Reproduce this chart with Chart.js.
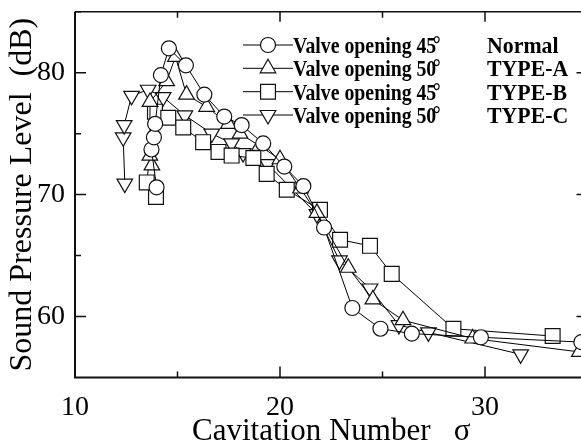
<!DOCTYPE html>
<html>
<head>
<meta charset="utf-8">
<script src="https://cdn.jsdelivr.net/npm/chart.js@4"></script>
<style>
  html, body { margin: 0; padding: 0; background: #fff; overflow: hidden; }
  #wrap { width: 600px; height: 448px; }
</style>
</head>
<body>
<div id="wrap"><canvas id="c" width="600" height="448"></canvas></div>
<script>
// Sound pressure level vs cavitation number (points in measured order)
const normal = [
  [13.98, 70.6], [13.73, 73.7], [13.85, 74.7], [13.91, 75.8], [14.19, 79.8],
  [14.58, 82.0], [15.41, 80.6], [16.31, 78.2], [17.28, 76.4], [18.13, 75.7],
  [19.18, 74.2], [20.21, 72.3], [21.14, 70.7], [22.15, 67.3], [23.53, 60.7],
  [24.9, 59.0], [26.43, 58.6], [29.8, 58.3], [34.7, 57.9]
];
const typeA = [
  [13.75, 72.4], [13.65, 73.2], [13.66, 77.6], [14.47, 79.3], [14.9, 81.3],
  [15.44, 78.2], [16.42, 77.2], [17.48, 75.8], [18.05, 75.0], [19.0, 74.0],
  [20.0, 72.9], [21.0, 70.5], [21.8, 68.5], [23.33, 64.0], [24.53, 61.4],
  [26.0, 59.7], [29.4, 58.2], [34.6, 57.1]
];
const typeB = [
  [13.95, 69.8], [13.5, 71.0], [13.9, 76.8], [14.55, 76.3], [15.28, 75.5],
  [16.25, 74.3], [17.0, 73.5], [17.64, 73.2], [18.7, 73.0], [19.35, 71.7],
  [20.33, 70.4], [21.95, 68.75], [22.93, 66.3], [24.39, 65.8], [25.45, 63.5],
  [28.46, 59.0], [33.3, 58.4]
];
const typeC = [
  [12.43, 70.9], [12.35, 74.7], [12.4, 75.7], [12.76, 78.1], [13.57, 78.6],
  [14.3, 78.0], [15.36, 76.5], [16.67, 75.0], [17.64, 74.2], [18.2, 73.4],
  [19.4, 72.5], [20.5, 70.6], [21.8, 68.4], [22.9, 64.6], [24.39, 62.3],
  [25.8, 59.3], [27.24, 58.7], [31.74, 56.9]
];
const seriesNames = ['Valve opening 45', 'Valve opening 50', 'Valve opening 45', 'Valve opening 50'];
const seriesTypes = ['Normal', 'TYPE-A', 'TYPE-B', 'TYPE-C'];

const xMajor = [10, 20, 30];
const xMinor = [15, 25, 35];
const yMajor = [60, 70, 80];
const yMinor = [65, 75, 85];

const serif = "'Liberation Serif', 'Times New Roman', serif";

function ds(pts, style, r, rot) {
  return {
    data: pts.map(p => ({ x: p[0], y: p[1] })),
    borderColor: '#000',
    borderWidth: 1,
    pointStyle: style,
    pointRadius: r,
    pointRotation: rot,
    pointBackgroundColor: '#fff',
    pointBorderColor: '#111',
    pointBorderWidth: 1.2,
    tension: 0
  };
}

const marks = [
  ['circle', 7.5, 0],
  ['triangle', 9, 0],
  ['rect', 10.5, 0],
  ['triangle', 9, 180]
];

// frame + inward ticks, and the legend box in the upper right
const framePlugin = {
  id: 'frame',
  afterDraw(chart) {
    const { ctx, chartArea: a, scales: { x, y } } = chart;
    ctx.save();
    ctx.strokeStyle = '#111';
    ctx.lineWidth = 2;
    ctx.beginPath();
    ctx.moveTo(a.left, a.top); ctx.lineTo(a.left, a.bottom); ctx.lineTo(a.right, a.bottom);
    ctx.stroke();
    ctx.lineWidth = 1.5;
    ctx.beginPath();
    ctx.moveTo(a.left, a.top); ctx.lineTo(a.right, a.top); ctx.lineTo(a.right, a.bottom);
    ctx.stroke();
    ctx.lineWidth = 1.5;
    ctx.beginPath();
    const tick = (vals, len, side) => vals.forEach(v => {
      if (side === 'b' || side === 't') {
        const px = x.getPixelForValue(v);
        const y0 = side === 'b' ? a.bottom : a.top;
        const d = side === 'b' ? -len : len;
        ctx.moveTo(px, y0); ctx.lineTo(px, y0 + d);
      } else {
        const py = y.getPixelForValue(v);
        const x0 = side === 'l' ? a.left : a.right;
        const d = side === 'l' ? len : -len;
        ctx.moveTo(x0, py); ctx.lineTo(x0 + d, py);
      }
    });
    tick(xMajor, 11, 'b'); tick(xMinor, 6, 'b');
    tick(xMajor, 10, 't'); tick(xMinor, 6, 't');
    tick(yMajor, 11, 'l'); tick(yMinor, 6, 'l');
    tick(yMajor, 11, 'r');
    ctx.stroke();

    // legend
    const lx0 = 243, lx1 = 293, tx = 293, tx2 = 487;
    const rows = [45, 68.3, 91.7, 115];
    ctx.font = "bold 23px " + serif;
    ctx.textBaseline = 'middle';
    ctx.fillStyle = '#000';
    rows.forEach((ry, i) => {
      ctx.strokeStyle = '#000';
      ctx.lineWidth = 1;
      ctx.beginPath(); ctx.moveTo(lx0, ry); ctx.lineTo(lx1, ry); ctx.stroke();
      ctx.fillStyle = '#fff';
      ctx.strokeStyle = '#111';
      ctx.lineWidth = 1.2;
      Chart.helpers.drawPoint(ctx, { pointStyle: marks[i][0], radius: marks[i][1], rotation: marks[i][2], borderWidth: 1.2 }, (lx0 + lx1) / 2, ry);
      ctx.fillStyle = '#000';
      ctx.textAlign = 'left';
      const s = seriesNames[i];
      ctx.save();
      ctx.translate(tx, ry + 2);
      ctx.scale(0.86, 1);
      ctx.fillText(s, 0, 0);
      const w = ctx.measureText(s).width;
      ctx.fillText('\u00B0', w - 4, -1);
      ctx.restore();
      ctx.save();
      ctx.translate(tx2, ry + 2);
      ctx.scale(0.95, 1);
      ctx.fillText(seriesTypes[i], 0, 0);
      ctx.restore();
    });
    ctx.restore();
  }
};

new Chart(document.getElementById('c'), {
  type: 'line',
  data: {
    datasets: [
      ds(normal, ...marks[0]),
      ds(typeA, ...marks[1]),
      ds(typeB, ...marks[2]),
      ds(typeC, ...marks[3])
    ]
  },
  options: {
    responsive: false,
    animation: false,
    layout: { padding: { top: 8.5, right: 12.5, left: 0, bottom: 0 } },
    plugins: { legend: { display: false }, tooltip: { enabled: false } },
    scales: {
      x: {
        type: 'linear', min: 10, max: 35,
        afterBuildTicks: s => { s.ticks = xMajor.map(v => ({ value: v })); },
        afterFit: s => { s.height = 70.5; s.paddingLeft = 0; s.paddingRight = 0; },
        grid: { display: false },
        border: { display: false },
        ticks: { color: '#000', padding: 5, font: { family: serif, size: 28 } },
        title: { display: true, text: 'Cavitation Number   \u03C3', color: '#000', padding: { top: 0, bottom: 1 }, font: { family: serif, size: 31, lineHeight: 1 } }
      },
      y: {
        type: 'linear', min: 55, max: 85,
        afterBuildTicks: s => { s.ticks = yMajor.map(v => ({ value: v })); },
        afterFit: s => { s.width = 75; s.paddingTop = 0; s.paddingBottom = 0; },
        grid: { display: false },
        border: { display: false },
        ticks: { color: '#000', padding: 2, font: { family: serif, size: 28 } },
        title: { display: true, text: 'Sound Pressure Level  (dB)', color: '#000', padding: { top: 7, bottom: 0 }, font: { family: serif, size: 32, lineHeight: 1 } }
      }
    }
  },
  plugins: [framePlugin]
});
</script>
</body>
</html>
